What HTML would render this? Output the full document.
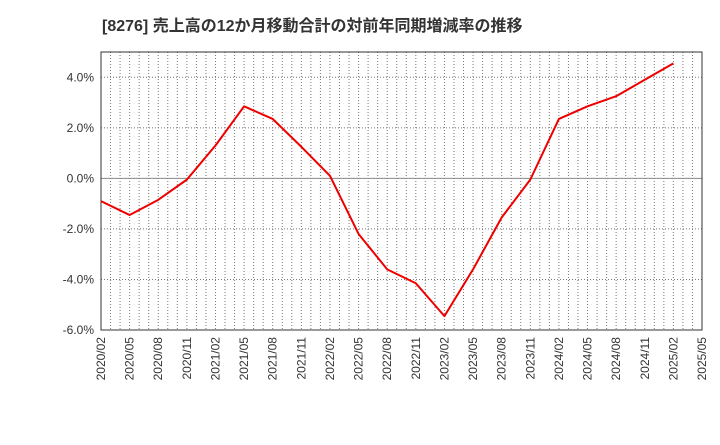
<!DOCTYPE html>
<html><head><meta charset="utf-8"><style>
body{margin:0;background:#fff;font-family:"Liberation Sans","Noto Sans CJK JP",sans-serif;}
</style></head><body>
<svg id="c" width="720" height="440" xmlns="http://www.w3.org/2000/svg">
<text x="102" y="31" font-size="16" font-weight="bold" fill="#333" font-family="Liberation Sans, Noto Sans CJK JP, sans-serif">[8276]  売上高の12か月移動合計の対前年同期増減率の推移</text>
<g id="plot"></g>
</svg>
<script>
const xLabels=["2020/02","2020/05","2020/08","2020/11","2021/02","2021/05","2021/08","2021/11","2022/02","2022/05","2022/08","2022/11","2023/02","2023/05","2023/08","2023/11","2024/02","2024/05","2024/08","2024/11","2025/02","2025/05"];
const values=[-0.9,-1.45,-0.85,-0.05,1.3,2.85,2.35,1.25,0.1,-2.2,-3.6,-4.15,-5.45,-3.6,-1.55,-0.05,2.35,2.85,3.25,3.9,4.55];
const yTicks=[4,2,0,-2,-4,-6];
const L=101,R=702,T=52,B=330,yMin=-6,yMax=5;
const ns="http://www.w3.org/2000/svg";
const g=document.getElementById('plot');
const xs=i=>L+(R-L)*i/(xLabels.length-1);
const ys=v=>B-(v-yMin)/(yMax-yMin)*(B-T);
function mk(t,a){const e=document.createElementNS(ns,t);for(const k in a)e.setAttribute(k,a[k]);g.appendChild(e);return e;}
const months=(xLabels.length-1)*3;
for(let m=1;m<months;m++){const x=L+(R-L)*m/months;
const e=mk('line',{x1:x,x2:x,y1:T,y2:B,stroke:'#777','stroke-width':1,'stroke-dasharray':'1,2'});
}
yTicks.forEach(v=>{if(v===yMin)return;const y=ys(v);
const e=mk('line',{x1:L,x2:R,y1:y,y2:y,stroke:v===0?'#888':'#777','stroke-width':1,'stroke-dasharray':v===0?'':'1,2'});
});
const fr=mk('rect',{x:L,y:T,width:R-L,height:B-T,fill:'none',stroke:'#333','stroke-width':1});

yTicks.forEach(v=>{const t=mk('text',{x:L-7,y:ys(v)+4,'text-anchor':'end','font-size':12,fill:'#333'});t.textContent=v.toFixed(1)+'%';
});
xLabels.forEach((s,i)=>{const x=xs(i);const t=mk('text',{x:0,y:0,'text-anchor':'end','font-size':12,fill:'#333',transform:`translate(${x+4},${B+7}) rotate(-90)`});t.textContent=s;
});
const p=mk('polyline',{points:values.map((v,i)=>xs(i)+','+ys(v)).join(' '),fill:'none',stroke:'#e00','stroke-width':2,'stroke-linejoin':'round'});

</script>
</body></html>
